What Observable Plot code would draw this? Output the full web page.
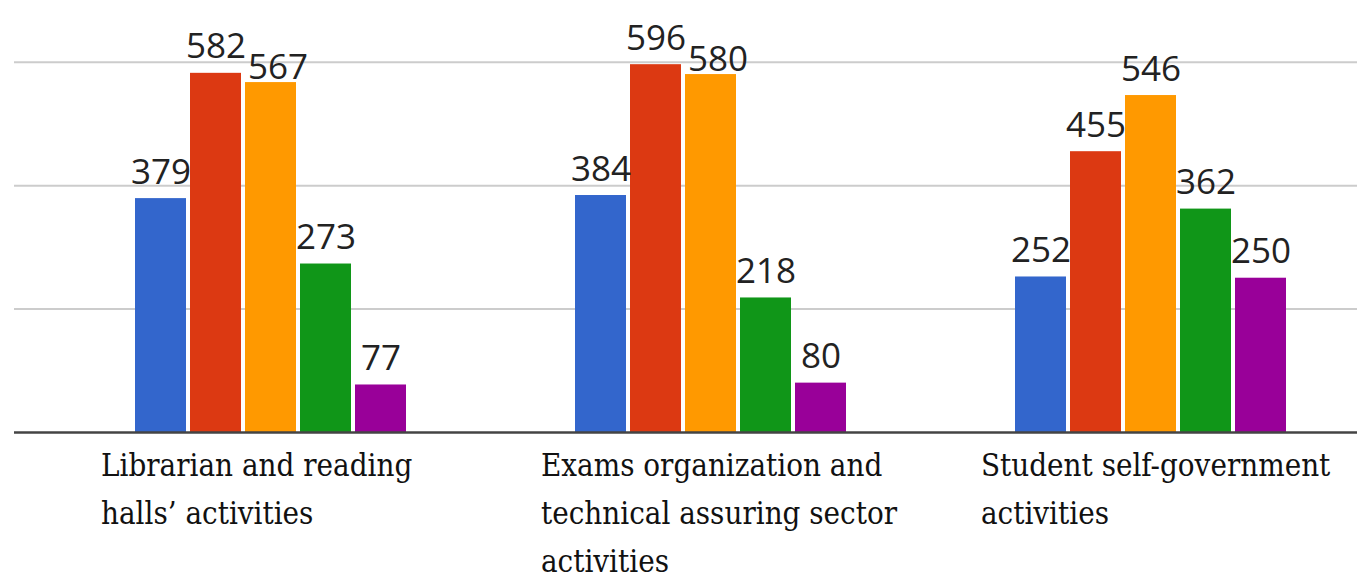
<!DOCTYPE html>
<html>
<head>
<meta charset="utf-8">
<script src="https://cdn.jsdelivr.net/npm/d3@7"></script>
<script src="https://cdn.jsdelivr.net/npm/@observablehq/plot@0.6"></script>
<style>
  html, body { margin: 0; padding: 0; background: #fff; }
  #chart { position: relative; width: 1357px; height: 583px; }
  #chart svg { display: block; position: absolute; left: 0; top: 0; background: transparent !important; }
</style>
</head>
<body>
<div id="chart"></div>
<script>
// Categories (tick labels, with their line breaks)
const groups = [
  "Librarian and reading\nhalls’ activities",
  "Exams organization and\ntechnical assuring sector\nactivities",
  "Student self-government\nactivities"
];
// Series (no legend shown in the original)
const series = ["Series 1", "Series 2", "Series 3", "Series 4", "Series 5"];
// Values per category, in series order
const librarianValues = [379, 582, 567, 273, 77];
const examsValues = [384, 596, 580, 218, 80];
const studentValues = [252, 455, 546, 362, 250];
// Gridline values
const gridValues = [200, 400, 600];

const colors = ["#3366cc", "#dc3912", "#ff9900", "#109618", "#990099"];

const valuesByGroup = [librarianValues, examsValues, studentValues];
const data = groups.flatMap((g, gi) =>
  series.map((s, si) => ({
    group: g,
    series: s,
    value: valuesByGroup[gi][si],
    // a label collides with its left neighbour's when the values are close
    crowded: si > 0 && Math.abs(valuesByGroup[gi][si] - valuesByGroup[gi][si - 1]) < 40
  }))
);

const frame = {
  width: 1357,
  height: 583,
  marginLeft: 14,
  marginRight: 0,
  marginTop: 0,
  marginBottom: 151,
  y: {domain: [0, 700], axis: null, label: null},
  style: {background: "transparent"}
};

// Layer 1: gridlines (behind bars)
const gridLayer = Plot.plot({
  ...frame,
  marks: [Plot.ruleY(gridValues, {stroke: "#cccccc", strokeWidth: 2})]
});

const valueLabelStyle = {
  fx: "group", x: "series", y: "value",
  text: d => String(d.value),
  lineAnchor: "bottom",
  fontSize: 35, fontFamily: "Open Sans", fill: "#222"
};

// Layer 2: bars and labels
const barLayer = Plot.plot({
  ...frame,
  fx: {domain: groups, range: [51, 1371], paddingInner: 0.384, paddingOuter: 0.192, axis: null, label: null},
  x: {domain: series, paddingInner: 0.08, paddingOuter: 0, axis: null, label: null},
  color: {domain: series, range: colors},
  marks: [
    Plot.barY(data, {fx: "group", x: "series", y: "value", fill: "series"}),
    Plot.text(data.filter(d => !d.crowded), {...valueLabelStyle, dy: -15}),
    Plot.text(data.filter(d => d.crowded), {...valueLabelStyle, dy: -4, dx: 7}),
    Plot.text(groups, {
      fx: d => d,
      text: d => d,
      frameAnchor: "bottom",
      textAnchor: "start",
      lineAnchor: "top",
      lineHeight: 48 / 31,
      dx: -170, dy: 9.9,
      fontSize: 31, fontFamily: "'DejaVu Serif Condensed', 'DejaVu Serif'", fill: "#111"
    })
  ]
});

// Layer 3: baseline (over bars)
const baseLayer = Plot.plot({
  ...frame,
  marks: [Plot.ruleY([0], {stroke: "#444", strokeWidth: 2.5})]
});

const root = document.getElementById("chart");
root.appendChild(gridLayer);
root.appendChild(barLayer);
root.appendChild(baseLayer);
</script>
</body>
</html>
